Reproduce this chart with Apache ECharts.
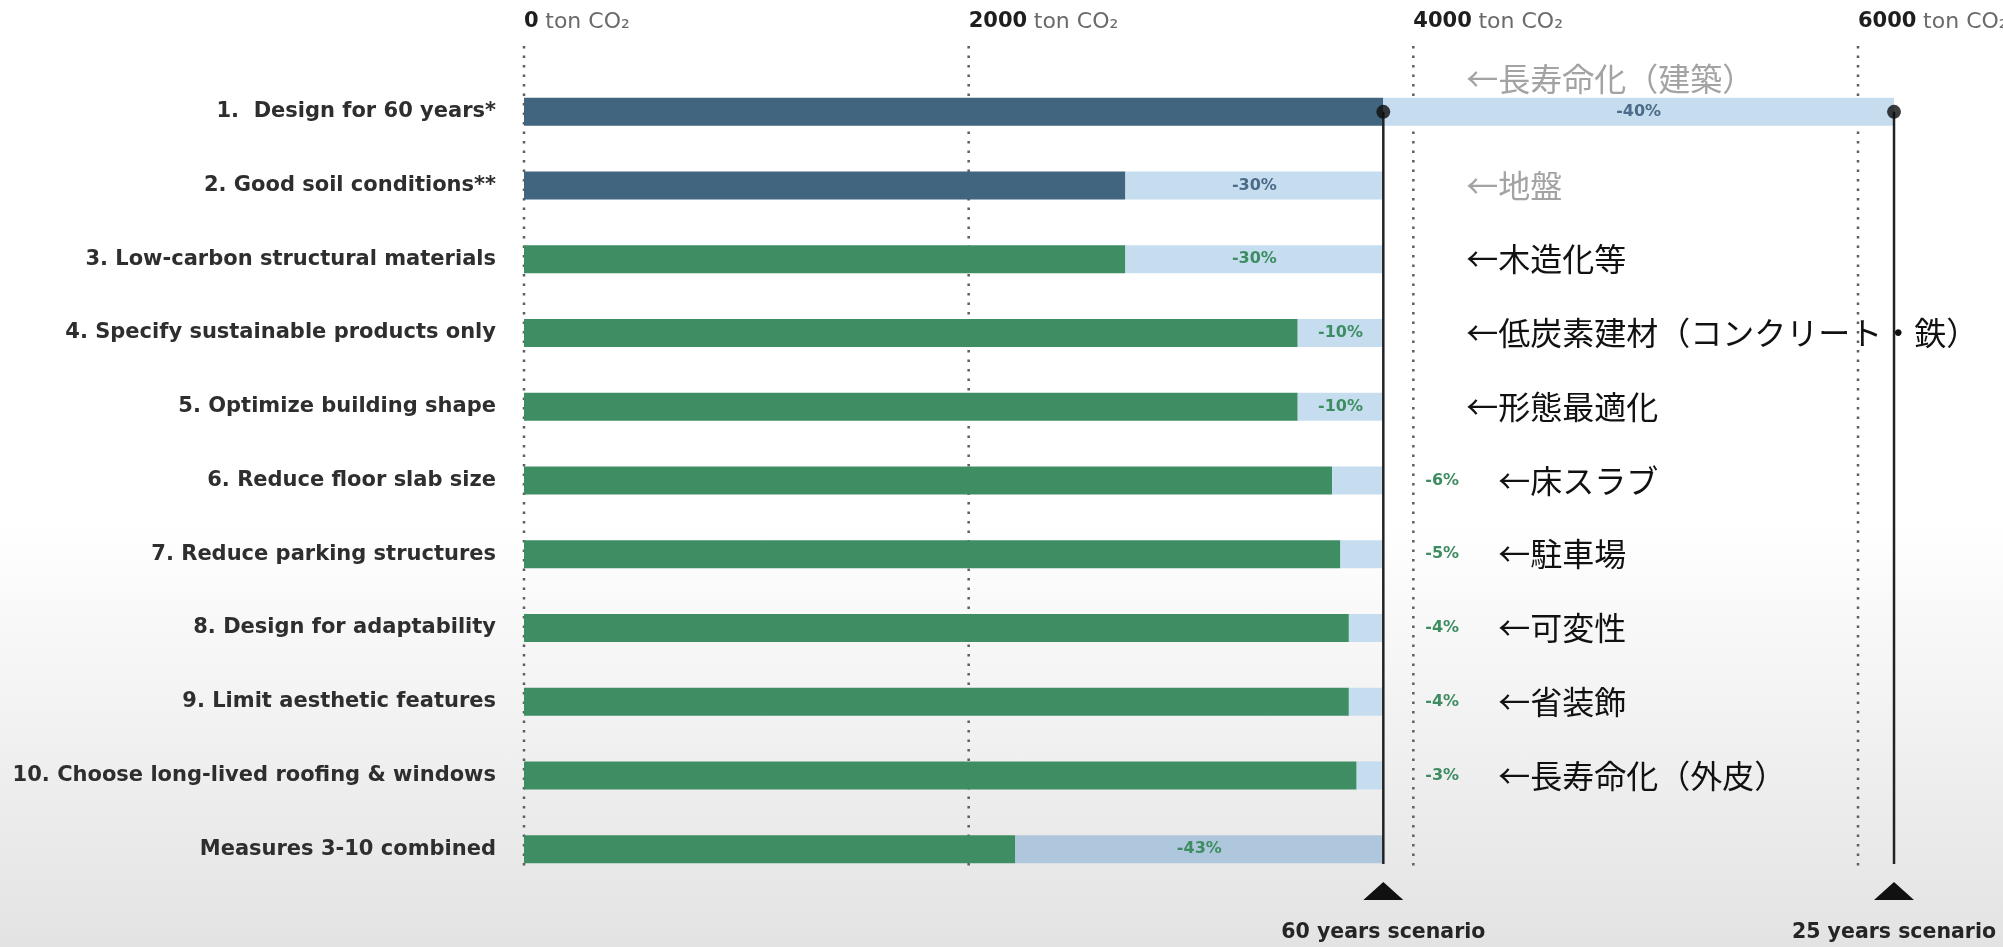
<!DOCTYPE html>
<html><head><meta charset="utf-8">
<script src="https://cdn.jsdelivr.net/npm/echarts@6/dist/echarts.min.js"></script>
<style>
html,body{margin:0;padding:0;background:#fff;}
#c{width:2003px;height:947px;background:linear-gradient(to bottom,#ffffff 0%,#ffffff 55%,#e3e3e3 100%);}
</style>
</head><body><div id="c"></div>
<script>
// ---- data ----
const categories = [
  '1.  Design for 60 years*',
  '2. Good soil conditions**',
  '3. Low-carbon structural materials',
  '4. Specify sustainable products only',
  '5. Optimize building shape',
  '6. Reduce floor slab size',
  '7. Reduce parking structures',
  '8. Design for adaptability',
  '9. Limit aesthetic features',
  '10. Choose long-lived roofing & windows',
  'Measures 3-10 combined'
];
const measureValues = [3865, 2705, 2705, 3480, 3480, 3635, 3672, 3710, 3710, 3745, 2210];
const baselineValues = [6162, 3865, 3865, 3865, 3865, 3865, 3865, 3865, 3865, 3865, 3865];
const reductionLabels = ['-40%', '-30%', '-30%', '-10%', '-10%', '-6%', '-5%', '-4%', '-4%', '-3%', '-43%'];
const measureGroup = ['base', 'base', 'm', 'm', 'm', 'm', 'm', 'm', 'm', 'm', 'combined'];
const notes = ['←長寿命化（建築）', '←地盤', '←木造化等', '←低炭素建材（コンクリート・鉄）', '←形態最適化',
  '←床スラブ', '←駐車場', '←可変性', '←省装飾', '←長寿命化（外皮）', ''];
const noteMuted = [true, true, false, false, false, false, false, false, false, false, false];
const xTicks = [0, 2000, 4000, 6000];
const scenarioNames = ['60 years scenario', '25 years scenario'];
const scenarioValues = [3865, 6162];

// ---- styles ----
const DARK_BLUE = '#41657f', GREEN = '#3f8d63', LIGHT = '#c6ddf0', LIGHT_GREY = '#aec7dc';
const LBL_BLUE = '#4b6b88', LBL_GREEN = '#3e8c61';
const FONT = "'DejaVu Sans', 'Open Sans', sans-serif";

const chart = echarts.init(document.getElementById('c'));

const reducedData = measureValues.map((v, i) => ({
  value: v,
  itemStyle: { color: measureGroup[i] === 'base' ? DARK_BLUE : GREEN }
}));
const savingData = baselineValues.map((b, i) => {
  const outside = (b - measureValues[i]) / b < 0.08;
  return {
    value: b - measureValues[i],
    itemStyle: { color: measureGroup[i] === 'combined' ? LIGHT_GREY : LIGHT },
    label: {
      show: true,
      formatter: reductionLabels[i],
      position: outside ? 'right' : 'inside',
      distance: outside ? 42 : 5,
      color: measureGroup[i] === 'base' ? LBL_BLUE : LBL_GREEN,
      fontSize: 16, fontWeight: 700, fontFamily: FONT
    }
  };
});

const option = {
  animation: false,
  backgroundColor: 'transparent',
  grid: { left: 524, right: 145, top: 75, bottom: 61, containLabel: false, outerBoundsMode: 'none' },
  xAxis: {
    type: 'value', position: 'top', min: 0, max: 6000, interval: 2000,
    splitLine: { show: false }, axisLine: { show: false }, axisTick: { show: false },
    axisLabel: {
      margin: 42, align: 'left', hideOverlap: false,
      formatter: v => '{b|' + v + '}  {t|ton CO₂}',
      rich: {
        b: { fontSize: 21, fontWeight: 700, color: '#1e1e1e', fontFamily: FONT },
        t: { fontSize: 22, fontWeight: 400, color: '#6a6a6a', fontFamily: FONT }
      }
    }
  },
  yAxis: {
    type: 'category', inverse: true, data: categories,
    axisLine: { show: false }, axisTick: { show: false }, splitLine: { show: false },
    axisLabel: { margin: 28, fontSize: 21, fontWeight: 700, color: '#2e2e2e', fontFamily: FONT }
  },
  series: [
    {
      name: 'grid', type: 'custom', z: 1, silent: true, clip: false,
      data: xTicks.map(v => [v]),
      renderItem: (params, api) => {
        const x = api.coord([api.value(0), 0])[0];
        const cs = params.coordSys;
        return {
          type: 'line',
          shape: { x1: x, y1: 46, x2: x, y2: cs.y + cs.height - 20 },
          style: { stroke: '#5e5e5e', lineWidth: 2.5, lineDash: [2.5, 7] }
        };
      }
    },
    {
      name: 'measure', type: 'bar', stack: 'a', barWidth: 28, z: 2, clip: false,
      data: reducedData
    },
    {
      name: 'saving', type: 'bar', stack: 'a', barWidth: 28, z: 2, clip: false,
      data: savingData
    },
    {
      name: 'scenario', type: 'custom', z: 5, silent: true, clip: false,
      data: scenarioValues.map((v, i) => [v, i]),
      renderItem: (params, api) => {
        const x = api.coord([api.value(0), 0])[0];
        const yTop = api.coord([api.value(0), 0])[1];
        const cs = params.coordSys;
        const yb = cs.y + cs.height;
        return {
          type: 'group',
          children: [
            { type: 'line', shape: { x1: x, y1: yTop, x2: x, y2: yb - 22 },
              style: { stroke: '#222', lineWidth: 2.5 } },
            { type: 'polygon', shape: { points: [[x - 20, yb + 14], [x + 20, yb + 14], [x, yb - 4]] },
              style: { fill: '#111' } },
            { type: 'text', x: x, y: yb + 47,
              style: { text: scenarioNames[api.value(1)], fill: '#252525', fontSize: 20.5, fontWeight: 700,
                       fontFamily: FONT, align: 'center', verticalAlign: 'middle' } }
          ]
        };
      }
    },
    {
      name: 'dots', type: 'scatter', z: 6, silent: true, clip: false,
      symbolSize: 14, itemStyle: { color: '#0d0d0d' },
      data: scenarioValues.map(v => [v, 0])
    },
    {
      name: 'notes', type: 'custom', z: 6, silent: true, clip: false,
      data: notes.map((n, i) => [i]),
      renderItem: (params, api) => {
        const i = api.value(0);
        if (!notes[i]) return null;
        const p = api.coord([scenarioValues[0], i]);
        const x = p[0] + (i < 5 ? 83 : 115);
        const y = p[1] + (i === 0 ? -33 : 0);
        return {
          type: 'text', x: x, y: y,
          style: { text: notes[i], fill: noteMuted[i] ? '#a3a3a3' : '#111', fontSize: 32,
                   fontFamily: "'Noto Sans CJK JP', sans-serif", align: 'left', verticalAlign: 'middle' }
        };
      }
    }
  ]
};
chart.setOption(option);
</script>
</body></html>
